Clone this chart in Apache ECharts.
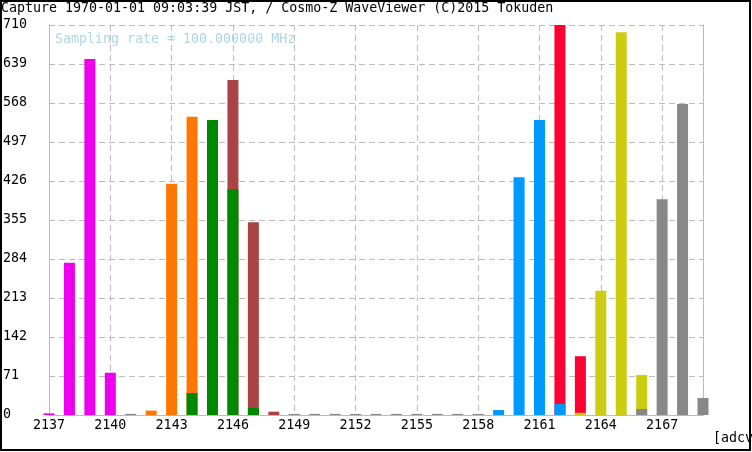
<!DOCTYPE html>
<html>
<head>
<meta charset="utf-8">
<script src="https://cdn.jsdelivr.net/npm/echarts@6/dist/echarts.min.js"></script>
<style>
html,body{margin:0;padding:0;background:#fff;}
#c{width:752px;height:452px;}
</style>
</head>
<body>
<div id="c"></div>
<script>
// ---- data (bin value -> count) per channel ----
const titleText = 'Capture 1970-01-01 09:03:39 JST, / Cosmo-Z WaveViewer (C)2015 Tokuden';
const subText = 'Sampling rate = 100.000000 MHz';
const axisNameText = '[adcval]';

const magentaBins = [2137, 2138, 2139, 2140];
const magentaCounts = [3, 277, 648, 77];

const orangeBins = [2142, 2143, 2144];
const orangeCounts = [8, 421, 543];

const brownBins = [2146, 2147, 2148];
const brownCounts = [610, 351, 6];

const redBins = [2162, 2163];
const redCounts = [710, 107];

const greenBins = [2144, 2145, 2146, 2147];
const greenCounts = [40, 537, 411, 13];

const blueBins = [2159, 2160, 2161, 2162];
const blueCounts = [9, 433, 537, 20];

const yellowBins = [2163, 2164, 2165, 2166];
const yellowCounts = [4, 226, 697, 73];

const grayBins = [2141, 2149, 2150, 2151, 2152, 2153, 2154, 2155, 2156, 2157, 2158, 2166, 2167, 2168, 2169];
const grayCounts = [2, 2, 2, 2, 2, 2, 2, 2, 2, 2, 2, 11, 393, 566, 31];

const xMin = 2137, xMax = 2169, xStep = 3;
const yMin = 0, yMax = 710, yStep = 71;

const FONT = 'DejaVu Sans Mono';
const FS = 13.3;

function pairs(b, c) { return b.map((v, i) => [v, c[i]]); }

const channels = [
  { name: 'ch0', color: '#ee00ee', bins: magentaBins, counts: magentaCounts },
  { name: 'ch1', color: '#ff7700', bins: orangeBins, counts: orangeCounts },
  { name: 'ch2', color: '#aa4444', bins: brownBins, counts: brownCounts },
  { name: 'ch3', color: '#ff0033', bins: redBins, counts: redCounts },
  { name: 'ch4', color: '#008800', bins: greenBins, counts: greenCounts },
  { name: 'ch5', color: '#0099ff', bins: blueBins, counts: blueCounts },
  { name: 'ch6', color: '#cccc11', bins: yellowBins, counts: yellowCounts },
  { name: 'ch7', color: '#888888', bins: grayBins, counts: grayCounts }
];

const chart = echarts.init(document.getElementById('c'), null, { renderer: 'canvas' });

const gridLine = { color: '#bbbbbb', width: 1, type: [6, 4] };

chart.setOption({
  animation: false,
  backgroundColor: '#ffffff',
  textStyle: { fontFamily: FONT },
  grid: { left: 49, right: 49, top: 25, bottom: 37, containLabel: false },
  xAxis: {
    type: 'value',
    min: xMin, max: xMax, interval: xStep,
    axisLine: { show: true, lineStyle: { color: '#bbbbbb', width: 1 } },
    axisTick: { show: false },
    splitLine: { show: true, lineStyle: gridLine },
    axisLabel: {
      margin: 4, color: '#000', fontFamily: FONT, fontSize: FS,
      showMaxLabel: false,
      formatter: v => String(v)
    }
  },
  yAxis: [{
    type: 'value',
    min: yMin, max: yMax, interval: yStep,
    axisLine: { show: true, lineStyle: { color: '#bbbbbb', width: 1 } },
    axisTick: { show: false },
    splitLine: { show: true, lineStyle: gridLine },
    axisLabel: { align: 'left', margin: 46, color: '#000', fontFamily: FONT, fontSize: FS,
      padding: [3, 0, 0, 0], formatter: v => String(v) }
  }, {
    type: 'value', position: 'right',
    min: yMin, max: yMax, interval: yStep,
    axisLine: { show: true, lineStyle: { color: '#bbbbbb', width: 1 } },
    axisTick: { show: false }, axisLabel: { show: false }, splitLine: { show: false }
  }],
  series: channels.map(ch => ({
    type: 'bar',
    name: ch.name,
    barWidth: 11,
    barGap: '-100%',
    clip: true,
    itemStyle: { color: ch.color },
    data: pairs(ch.bins, ch.counts)
  })),
  graphic: [
    {
      type: 'text', left: 1, top: 2, z: 100,
      style: { text: titleText, fill: '#000', font: FS + 'px "' + FONT + '"' }
    },
    {
      type: 'text', left: 55, top: 33, z: 100,
      style: { text: subText, fill: '#add8e6', font: FS + 'px "' + FONT + '"' }
    },
    {
      type: 'text', x: 713, y: 439, z: 100,
      style: { text: axisNameText, fill: '#000', font: FS + 'px "' + FONT + '"', verticalAlign: 'middle' }
    },
    {
      type: 'rect', z: 110,
      shape: { x: 1, y: 1, width: 749, height: 449 },
      style: { fill: 'none', stroke: '#000', lineWidth: 2 }
    }
  ]
});
</script>
</body>
</html>
